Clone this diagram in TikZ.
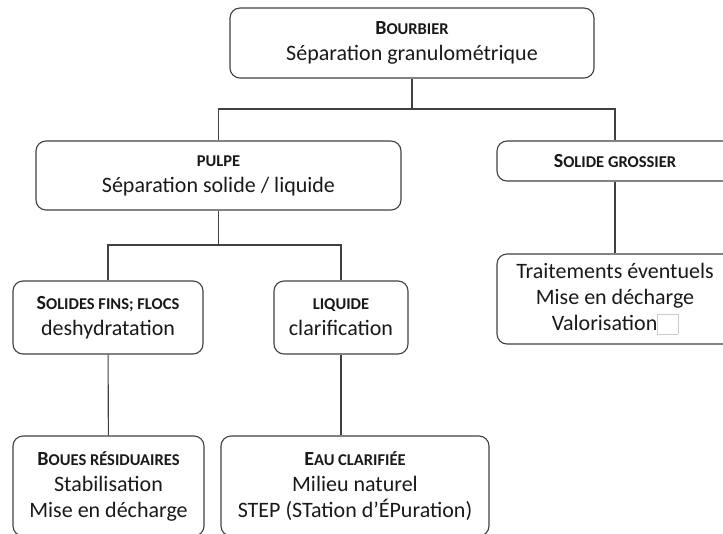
\documentclass[tikz,border=0pt]{standalone}
\usepackage{fontspec}
\setmainfont{Carlito}
\newcommand{\entete}[2]{{\bfseries\fontsize{20}{26}\selectfont #1\fontsize{16.5}{26}\selectfont #2}}

\begin{document}
\begin{tikzpicture}[x=1pt,y=-1pt,
	box/.style={draw=black!75, line width=1.1pt, rounded corners=10pt, align=center, inner sep=0pt, text=black!90, font=\fontsize{22}{26}\selectfont},
	lien/.style={draw=black!75, line width=1.1pt}]
	\useasboundingbox (0,0) rectangle (723,533);
	%niveau 1
	\node [box, minimum width=364pt, minimum height=70pt] (bourbier) at (412,43) {\entete{B}{OURBIER}\\Séparation granulométrique};
	%niveau 2
	\node [box, minimum width=365pt, minimum height=69pt] (pulpe) at (218.5,175.5) {\entete{}{PULPE}\\Séparation solide / liquide};
	\node [box, minimum width=236pt, minimum height=40pt] (grossier) at (615,161) {\entete{S}{OLIDE GROSSIER}};
	%niveau 3
	\node [box, minimum width=190pt, minimum height=73pt] (fins) at (108,317.5) {\entete{S}{OLIDES FINS; FLOCS}\\deshydratation};
	\node [box, minimum width=134pt, minimum height=73pt] (liquide) at (341,317.5) {\entete{}{LIQUIDE}\\clarification};
	\node [box, minimum width=236pt, minimum height=90pt] (traitements) at (615,299) {Traitements éventuels\\Mise en décharge\\Valorisation\fcolorbox{black!20}{white}{\rule{0pt}{14pt}\rule{14pt}{0pt}}};
	%niveau 4
	\node [box, minimum width=191pt, minimum height=100pt] (boues) at (108.5,486) {\entete{B}{OUES RÉSIDUAIRES}\\Stabilisation\\Mise en décharge};
	\node [box, minimum width=268pt, minimum height=100pt] (eau) at (355,486) {\entete{E}{AU CLARIFIÉE}\\Milieu naturel\\STEP (STation d’ÉPuration)};
	
	%liens
	\coordinate (bus1) at (413,109);
	\coordinate (bus2) at (219,245);
	\draw [lien] (bourbier.south) -- (bourbier.south |- bus1);
	\draw [lien] (pulpe.north) |- (bus1) -| (grossier.north);
	\draw [lien] (grossier) -- (traitements);
	\draw [lien] (pulpe.south) -- (pulpe.south |- bus2);
	\draw [lien] (fins.north) |- (bus2) -| (liquide.north);
	\draw [lien] (fins) -- (boues);
	\draw [lien] (liquide.south) -- (liquide.south |- eau.north);
\end{tikzpicture}
\end{document}
